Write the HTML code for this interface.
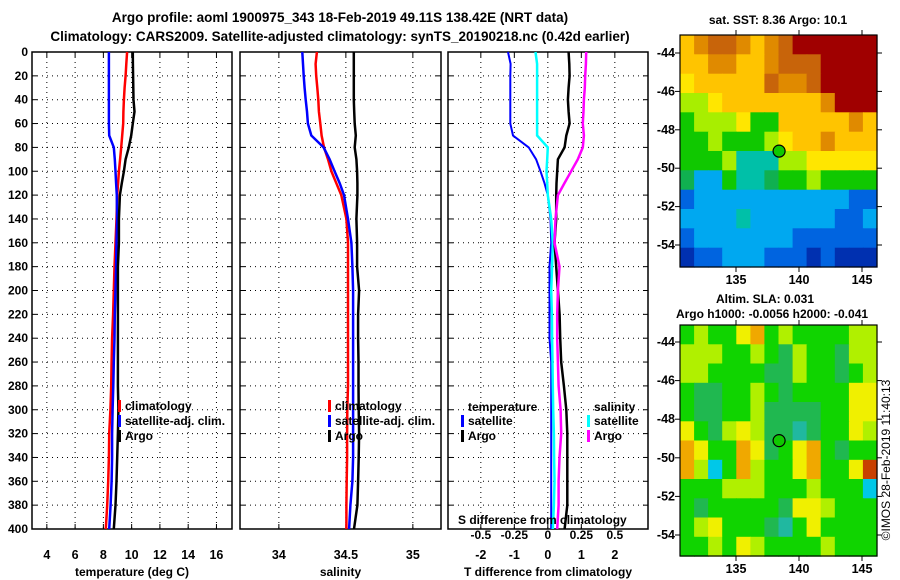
<!DOCTYPE html>
<html><head><meta charset="utf-8"><style>
html,body{margin:0;padding:0;background:#fff}
svg{display:block;font-family:"Liberation Sans",sans-serif;font-weight:bold}
</style></head><body>
<svg id="c" width="900" height="580" viewBox="0 0 900 580" xmlns="http://www.w3.org/2000/svg">
<text x="340" y="22" font-size="13.5" text-anchor="middle">Argo profile: aoml 1900975_343 18-Feb-2019 49.11S 138.42E (NRT data)</text>
<text x="340" y="41" font-size="13.5" text-anchor="middle">Climatology: CARS2009. Satellite-adjusted climatology: synTS_20190218.nc (0.42d earlier)</text>
<text x="778" y="24" font-size="12" text-anchor="middle">sat. SST: 8.36 Argo: 10.1</text>
<text x="765" y="303" font-size="12" text-anchor="middle">Altim. SLA: 0.031</text>
<text x="772" y="318" font-size="12" text-anchor="middle">Argo h1000: -0.0056 h2000: -0.041</text>
<text transform="translate(890,460) rotate(-90)" font-size="12" font-weight="normal" text-anchor="middle">©IMOS 28-Feb-2019 11:40:13</text>
<g id="layer"></g>
</svg>
<script>
// ---- profile data ----
const depths = [0,10,20,30,40,50,60,70,80,90,100,110,120,140,160,180,200,220,240,260,280,300,320,340,360,380,400];
const tempClim = [9.68,9.62,9.57,9.5,9.45,9.42,9.4,9.33,9.26,9.18,9.1,9.04,8.98,8.93,8.86,8.79,8.74,8.69,8.62,8.58,8.55,8.5,8.41,8.39,8.34,8.27,8.17];
const tempSat = [8.39,8.39,8.39,8.39,8.39,8.39,8.39,8.41,8.74,8.81,8.86,8.9,8.95,8.97,8.93,8.9,8.86,8.81,8.79,8.74,8.7,8.65,8.62,8.62,8.58,8.51,8.41];
const tempArgo = [10.08,10.09,10.1,10.12,10.13,10.2,10.08,9.97,9.8,9.57,9.45,9.3,9.17,9.1,9.1,9.03,9.03,9.03,9.03,9.03,9.03,9.06,9.03,8.98,8.93,8.86,8.74];
const salClim = [34.284,34.274,34.279,34.287,34.294,34.299,34.309,34.319,34.337,34.367,34.392,34.429,34.466,34.504,34.516,34.516,34.516,34.516,34.516,34.516,34.516,34.511,34.509,34.509,34.506,34.504,34.504];
const salSat = [34.175,34.18,34.185,34.192,34.2,34.21,34.217,34.242,34.334,34.379,34.416,34.454,34.486,34.516,34.541,34.549,34.554,34.554,34.554,34.554,34.554,34.554,34.554,34.554,34.549,34.534,34.524];
const salArgo = [34.559,34.559,34.559,34.559,34.559,34.562,34.566,34.574,34.566,34.579,34.584,34.586,34.586,34.579,34.584,34.584,34.599,34.591,34.591,34.594,34.594,34.596,34.599,34.596,34.591,34.586,34.561];
const dTempSat = [-1.19,-1.11,-1.12,-1.12,-1.12,-1.12,-1.12,-1.04,-0.57,-0.35,-0.22,-0.1,0,0.08,0.1,0.05,0.05,0.05,0.05,0.1,0.1,0.1,0.1,0.1,0.1,0.1,0.1];
const dSalSat = [-0.092,-0.08,-0.08,-0.08,-0.08,-0.08,-0.08,-0.08,0,-0.005,-0.01,-0.005,0,0.025,0.037,0.032,0.025,0.03,0.032,0.035,0.037,0.04,0.045,0.047,0.05,0.045,0.037];
const dTempArgo = [0.62,0.64,0.65,0.62,0.6,0.62,0.65,0.55,0.5,0.3,0.28,0.26,0.25,0.25,0.2,0.25,0.3,0.35,0.37,0.4,0.48,0.55,0.58,0.58,0.58,0.58,0.5];
const dSalArgo = [0.286,0.284,0.279,0.276,0.269,0.266,0.261,0.269,0.261,0.224,0.174,0.124,0.075,0.057,0.05,0.087,0.075,0.07,0.07,0.075,0.08,0.095,0.1,0.087,0.08,0.08,0.07];
const depthTicks = [0,20,40,60,80,100,120,140,160,180,200,220,240,260,280,300,320,340,360,380,400];
const tempTicks = [4,6,8,10,12,14,16];
const salTicks = [34,34.5,35];
const dTempTicks = [-2,-1,0,1,2];
const dSalTicks = [-0.5,-0.25,0,0.25,0.5];
const dSalLabels = ["-0.5","-0.25","0","0.25","0.5"];
// ---- map data (coarse colour grids, 1 degree rows) ----
const sstRows = [
"YOooOYOoRRRRRR","YYOOYYOoooRRRR","yYYYYYoOOoRRRR","LLyYYYYYYYORRR",
"GLLLyGGYYYYYOY","GGLGGGLyYYOYYY","GGGLTTTLLyyyyy","gCCGTTgGGLGGGG",
"BCCCCCCCCCCCBB","CCCCTCCCCCCBBC","BCCCCCCCBBBBBB","DBBCCCBBBDBDDD"];
const slaRows = [
"GLGGYOGLGGGGLL","LLLGGLGgLGGgLL","LLGGGGggLGGgGL","GggGGLGgGGGGYY",
"GggGGLggggGGYY","YGgLYLggTgGGYL","OYGGOYgGYOGgGG","OLCGOLGGYOGGYR",
"GGGLLLGGGLGGGC","GgGGGGGgYYLGGG","GLYGGGgTGYGGGG","GGLGYLGGGGLGGG"];
const sstPalette = {R:"#a00000",o:"#c8640a",O:"#e08a00",Y:"#ffc400",y:"#ffe600",L:"#a8ee00",G:"#10c800",g:"#10b050",T:"#00c0a8",C:"#00a8f0",B:"#0064e0",D:"#0030b0"};
const slaPalette = {G:"#10d400",g:"#20b850",L:"#b0f000",Y:"#f0f000",O:"#f0a800",R:"#c84000",T:"#20b8a0",C:"#00c8e8"};
const mapLonTicks = [135,140,145];
const mapLatTicks = [-44,-46,-48,-50,-52,-54];
const floatLon = 138.42, floatLat = -49.11;

const NS="http://www.w3.org/2000/svg";
const L=document.getElementById('layer');
function mk(tag,attrs,parent){const e=document.createElementNS(NS,tag);for(const k in attrs)e.setAttribute(k,attrs[k]);(parent||L).appendChild(e);return e;}
const yTop=52,yBot=529;
const yD=d=>yTop+d*(yBot-yTop)/400;

function panel(name,x0,x1,vmin,vmax,ticks,labels,xtitle,showDepth){
  const g=mk('g',{});
  
  
  const sx=v=>x0+(v-vmin)*(x1-x0)/(vmax-vmin);
  depthTicks.forEach(d=>{
    const y=yD(d);
    const ln=mk('line',{x1:x0,x2:x1,y1:y,y2:y,stroke:'#000','stroke-width':1,'stroke-dasharray':'1,4'},g);
    
    
    mk('line',{x1:x0,x2:x0+5,y1:y,y2:y,stroke:'#000'},g);
    mk('line',{x1:x1-5,x2:x1,y1:y,y2:y,stroke:'#000'},g);
    if(showDepth){const t=mk('text',{x:28,y:y+4,'font-size':12,'text-anchor':'end'},g);t.textContent=d;
      
      }
  });
  ticks.forEach((v,i)=>{
    const x=sx(v);
    mk('line',{x1:x,x2:x,y1:yTop,y2:yBot,stroke:'#000','stroke-dasharray':'1,4'},g);
    mk('line',{x1:x,x2:x,y1:yBot-5,y2:yBot,stroke:'#000'},g);
    mk('line',{x1:x,x2:x,y1:yTop,y2:yTop+5,stroke:'#000'},g);
    const t=mk('text',{x:x,y:559,'font-size':12.5,'text-anchor':'middle'},g);t.textContent=labels[i];
    
    
  });
  mk('rect',{x:x0,y:yTop,width:x1-x0,height:yBot-yTop,fill:'none',stroke:'#000','stroke-width':1.5},g);
  const tt=mk('text',{x:(x0+x1)/2,y:576,'font-size':12,'text-anchor':'middle'},g);tt.textContent=xtitle;
  
  
  return {g,sx};
}
function series(p,vals,color,name,w){
  const pts=vals.map((v,i)=>p.sx(v).toFixed(1)+','+yD(depths[i]).toFixed(1)).join(' ');
  const pl=mk('polyline',{points:pts,fill:'none',stroke:color,'stroke-width':w||2.5},p.g);
  
  
}
function legend(g,x,y,color,label){
  mk('rect',{x:x,y:y-10,width:3,height:12,fill:color},g);
  const t=mk('text',{x:x+7,y:y,'font-size':12},g);t.textContent=label;
  
  
}
// temperature panel
const p1=panel('temperature',32,232,2.95,17.1,tempTicks,tempTicks.map(String),'temperature (deg C)',true);
series(p1,tempClim,'#ff0000','temp-climatology-line');
series(p1,tempSat,'#0000ff','temp-satellite-line');
series(p1,tempArgo,'#000','temp-argo-line');
legend(p1.g,118,410,'#ff0000','climatology');legend(p1.g,118,425,'#0000ff','satellite-adj. clim.');legend(p1.g,118,440,'#000','Argo');
// salinity panel
const p2=panel('salinity',240,441,33.71,35.21,salTicks,["34","34.5","35"],'salinity',false);
series(p2,salClim,'#ff0000','sal-climatology-line');
series(p2,salSat,'#0000ff','sal-satellite-line');
series(p2,salArgo,'#000','sal-argo-line');
legend(p2.g,328,410,'#ff0000','climatology');legend(p2.g,328,425,'#0000ff','satellite-adj. clim.');legend(p2.g,328,440,'#000','Argo');
// difference panel
const p3=panel('difference',448,648,-2.98,2.99,dTempTicks,dTempTicks.map(String),'T difference from climatology',false);
const p3s={g:p3.g,sx:v=>p3.sx(v*4)};
series(p3,dTempSat,'#0000ff','dtemp-satellite-line',2);
series(p3s,dSalSat,'#00ffff','dsal-satellite-line',2.5);
series(p3,dTempArgo,'#000','dtemp-argo-line');
series(p3s,dSalArgo,'#ff00ff','dsal-argo-line');
{const t=mk('text',{x:468,y:411,'font-size':12},p3.g);t.textContent='temperature';
 const t2=mk('text',{x:594,y:411,'font-size':12},p3.g);t2.textContent='salinity';}
legend(p3.g,461,425,'#0000ff','satellite');legend(p3.g,461,440,'#000','Argo');
legend(p3.g,587,425,'#00ffff','satellite');legend(p3.g,587,440,'#ff00ff','Argo');
{const t=mk('text',{x:458,y:524,'font-size':12},p3.g);t.textContent='S difference from climatology';
 
 dSalTicks.forEach((v,i)=>{const tl=mk('text',{x:p3s.sx(v),y:539,'font-size':12,'text-anchor':'middle'},p3.g);tl.textContent=dSalLabels[i];
  });}

// maps
function map(name,rows,pal,y0,y1,lat44y,lat54y){
  const g=mk('g',{});
  
  
  const x0=680,x1=877;
  const lx=lon=>736+(lon-135)*12.6;
  const ly=lat=>lat44y+(-44-lat)*(lat54y-lat44y)/10;
  const cw=(x1-x0)/rows[0].length, ch=(y1-y0)/rows.length;
  rows.forEach((r,i)=>{[...r].forEach((c,j)=>{
    mk('rect',{x:(x0+j*cw).toFixed(1),y:(y0+i*ch).toFixed(1),width:(cw+0.6).toFixed(1),height:(ch+0.6).toFixed(1),fill:pal[c]},g);
  });});
  mk('rect',{x:x0,y:y0,width:x1-x0,height:y1-y0,fill:'none',stroke:'#000','stroke-width':1.2},g);
  mapLonTicks.forEach(v=>{const x=lx(v);
    mk('line',{x1:x,x2:x,y1:y1,y2:y1+5,stroke:'#000'},g);mk('line',{x1:x,x2:x,y1:y0-5,y2:y0,stroke:'#000'},g);
    const t=mk('text',{x:x,y:y1+17,'font-size':12.5,'text-anchor':'middle'},g);t.textContent=v;
    });
  mapLatTicks.forEach(v=>{const y=ly(v);
    mk('line',{x1:x1,x2:x1+5,y1:y,y2:y,stroke:'#000'},g);mk('line',{x1:x0-5,x2:x0,y1:y,y2:y,stroke:'#000'},g);
    const t=mk('text',{x:x0-5,y:y+4,'font-size':12.5,'text-anchor':'end'},g);t.textContent=v;
    });
  const c=mk('circle',{cx:lx(floatLon),cy:ly(floatLat),r:6,fill:'#10c800',stroke:'#000','stroke-width':1.2},g);
  
  
}
map('sst-map',sstRows,sstPalette,35,267,53,245);
map('sla-map',slaRows,slaPalette,325,556,342,535);
</script>
</body></html>
